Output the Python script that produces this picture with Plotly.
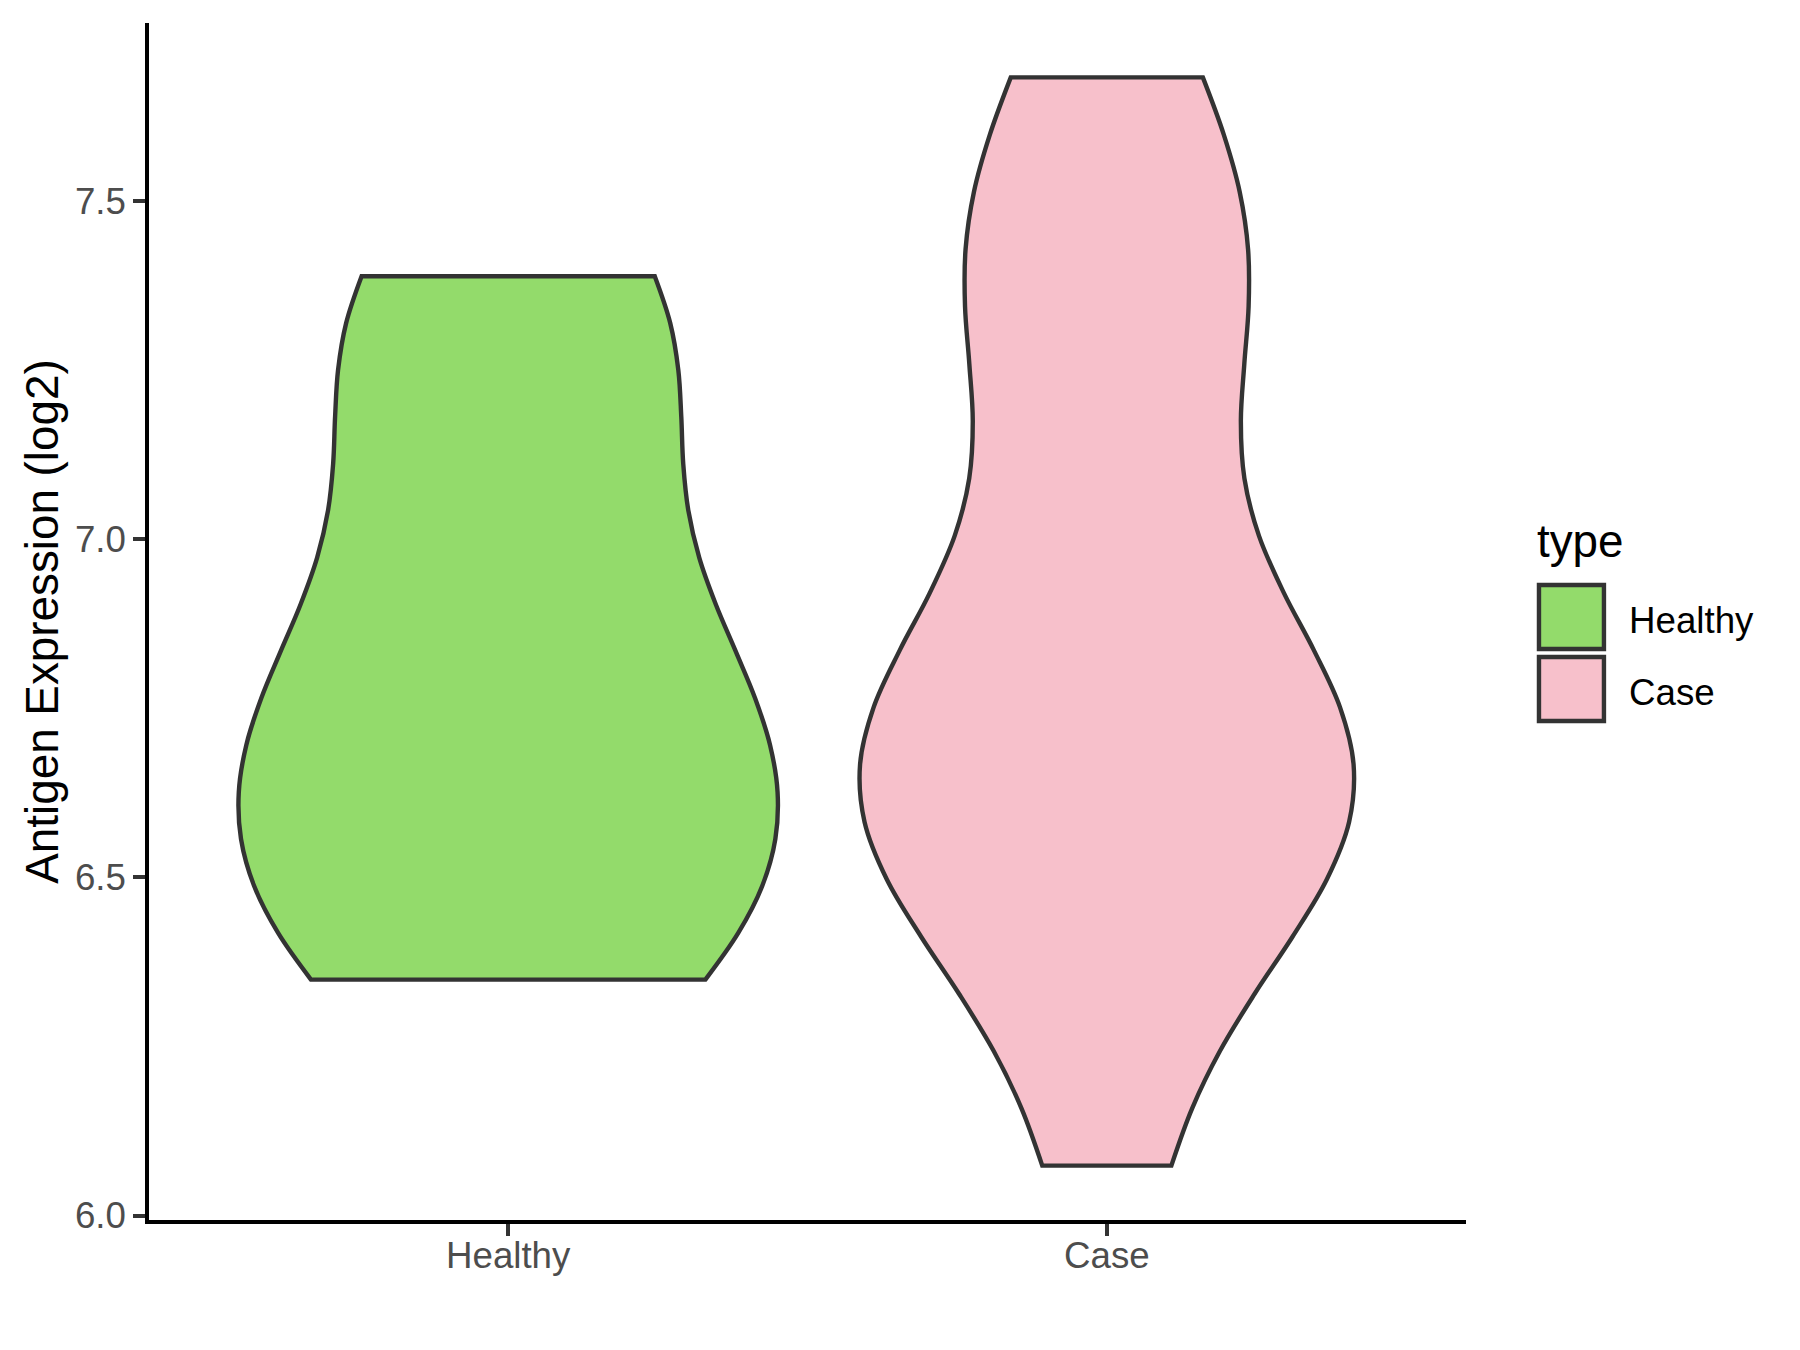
import numpy as np
import plotly.graph_objects as go

# ---- data ----
categories = ["Healthy", "Case"]
healthy_values = [6.349, 6.44, 6.50, 6.66, 6.77, 6.82, 7.12, 7.32, 7.389]
case_values = [6.074, 6.57, 6.58, 6.58, 6.62, 6.63, 6.74, 6.90, 7.38, 7.38, 7.39, 7.683]
fill_colors = ["#93DB6B", "#F7C0CB"]
y_ticks = [6.0, 6.5, 7.0, 7.5]
y_tick_labels = ["6.0", "6.5", "7.0", "7.5"]
legend_title = "type"
y_title = "Antigen Expression (log2)"

FONT = "Liberation Sans, Arial, Helvetica, sans-serif"
W, H = 1800, 1350
L, R, T, B = 148.5, 334, 23, 130
PW, PH = W - L - R, H - T - B
LW = 4.4
VIOLIN_WIDTH = 0.9


def nrd0(v):
    v = np.asarray(v, float)
    sd = v.std(ddof=1)
    q1, q3 = np.percentile(v, [25, 75])
    return 0.9 * min(sd, (q3 - q1) / 1.34) * len(v) ** -0.2


def max_density(v):
    # peak of the gaussian KDE over the data range (for ggplot-like "area" scaling)
    v = np.asarray(v, float)
    h = nrd0(v)
    g = np.linspace(v.min(), v.max(), 512)
    d = np.exp(-0.5 * ((g[:, None] - v[None, :]) / h) ** 2).sum(1) / (len(v) * h * np.sqrt(2 * np.pi))
    return d.max()


def px_x(x):
    return (x - L) / PW


def px_y(y):
    return (H - B - y) / PH


groups = [healthy_values, case_values]
peaks = [max_density(v) for v in groups]
top_peak = max(peaks)

fig = go.Figure()
for cat, vals, col, pk in zip(categories, groups, fill_colors, peaks):
    fig.add_trace(go.Violin(
        x=[cat] * len(vals), y=vals, name=cat,
        fillcolor=col, line=dict(color="#333333", width=LW),
        points=False, box_visible=False, meanline_visible=False,
        spanmode="hard", bandwidth=nrd0(vals),
        scalemode="width", width=VIOLIN_WIDTH * pk / top_peak,
        opacity=1, showlegend=False, hoveron="violins",
    ))

all_vals = healthy_values + case_values
lo, hi = min(all_vals), max(all_vals)
pad = 0.05 * (hi - lo)

axis_common = dict(
    showline=True, linecolor="black", linewidth=LW,
    ticks="outside", ticklen=11.5, tickwidth=LW, tickcolor="#333333",
    tickfont=dict(size=36.7, color="#4D4D4D", family=FONT),
    showgrid=False, zeroline=False, automargin=False, fixedrange=True,
)

fig.update_xaxes(type="category", categoryorder="array", categoryarray=categories,
                 range=[-0.6, 1.6], ticklabelstandoff=-12, **axis_common)
fig.update_yaxes(range=[lo - pad, hi + pad], tickvals=y_ticks, ticktext=y_tick_labels,
                 title=dict(text=y_title, font=dict(size=45.8, color="black", family=FONT),
                            standoff=3),
                 **axis_common)

# ---- legend drawn as keys + labels ----
shapes = []
annotations = [dict(text=legend_title, x=px_x(1535), y=px_y(541), xref="paper", yref="paper",
                    xanchor="left", yanchor="middle", showarrow=False,
                    font=dict(size=45.8, color="black", family=FONT))]
key_tops = [585, 657]
label_ys = [620, 692]
for cat, col, top, ly in zip(categories, fill_colors, key_tops, label_ys):
    shapes.append(dict(type="rect", xref="paper", yref="paper",
                       x0=px_x(1539), x1=px_x(1604), y0=px_y(top + 64), y1=px_y(top),
                       fillcolor=col, line=dict(color="#333333", width=LW)))
    annotations.append(dict(text=cat, x=px_x(1627), y=px_y(ly), xref="paper", yref="paper",
                            xanchor="left", yanchor="middle", showarrow=False,
                            font=dict(size=36.7, color="black", family=FONT)))

fig.update_layout(
    width=W, height=H,
    margin=dict(l=L, r=R, t=T, b=B, autoexpand=False),
    plot_bgcolor="white", paper_bgcolor="white",
    violinmode="overlay", showlegend=False,
    font=dict(family=FONT),
    shapes=shapes, annotations=annotations,
)

fig.write_html("out.html", config={"displayModeBar": False},
               post_script="document.body.style.margin='0';")
